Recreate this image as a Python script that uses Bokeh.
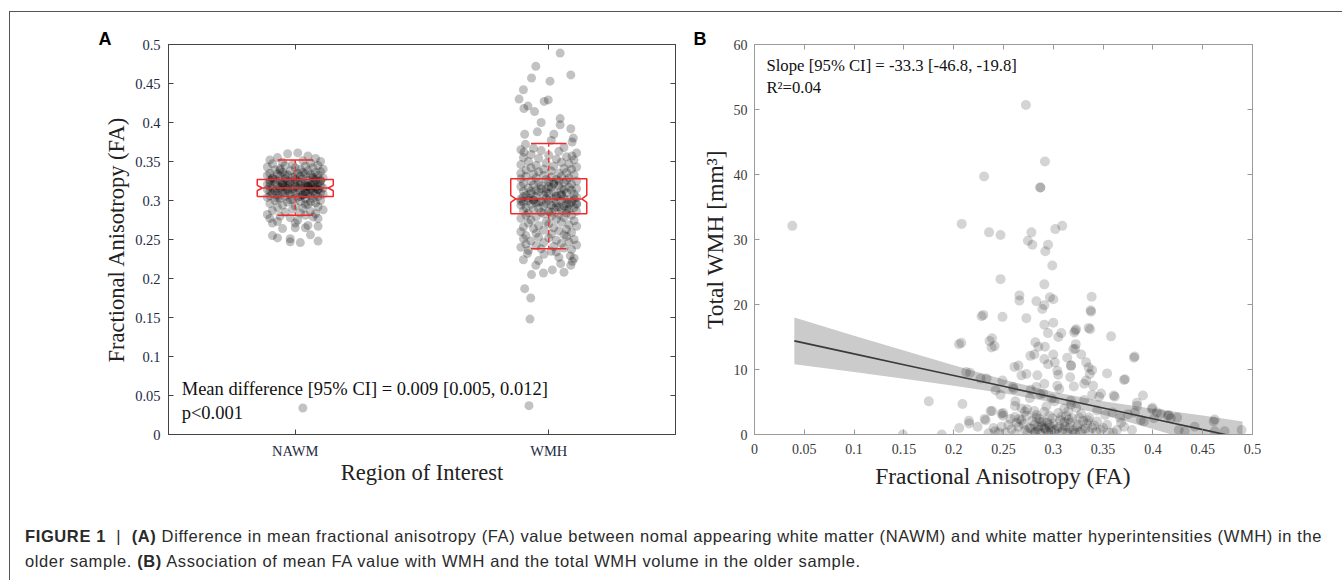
from bokeh.plotting import figure
from bokeh.models import FixedTicker, LinearAxis, Div, Range1d
from bokeh.layouts import row, column
from bokeh.embed import file_html
from bokeh.resources import INLINE
from bokeh.core.properties import value

SERIF = "Liberation Serif"

# ---------------- Panel A data ----------------
categories = ["NAWM", "WMH"]
cat_pos = [1, 2]

nawm_fa = [
    0.360, 0.361, 0.357, 0.355, 0.354, 0.352, 0.351, 0.350, 0.349, 0.348,
    0.347, 0.346, 0.345, 0.345, 0.344, 0.343, 0.342, 0.342, 0.341, 0.340,
    0.340, 0.339, 0.338, 0.338, 0.337, 0.336, 0.336, 0.335, 0.335, 0.334,
    0.334, 0.333, 0.333, 0.332, 0.332, 0.331, 0.331, 0.330, 0.330, 0.329,
    0.329, 0.328, 0.328, 0.327, 0.327, 0.326, 0.326, 0.325, 0.325, 0.324,
    0.324, 0.323, 0.323, 0.322, 0.322, 0.321, 0.321, 0.320, 0.320, 0.320,
    0.319, 0.319, 0.318, 0.318, 0.318, 0.317, 0.317, 0.316, 0.316, 0.316,
    0.315, 0.315, 0.314, 0.314, 0.314, 0.313, 0.313, 0.312, 0.312, 0.311,
    0.311, 0.310, 0.310, 0.309, 0.309, 0.308, 0.308, 0.307, 0.307, 0.306,
    0.306, 0.305, 0.305, 0.304, 0.304, 0.303, 0.302, 0.302, 0.301, 0.300,
    0.300, 0.299, 0.298, 0.297, 0.296, 0.295, 0.294, 0.293, 0.292, 0.291,
    0.290, 0.289, 0.288, 0.287, 0.286, 0.285, 0.284, 0.283, 0.282, 0.281,
    0.280, 0.279, 0.278, 0.277, 0.277, 0.275, 0.273, 0.271, 0.271, 0.268,
    0.267, 0.265, 0.265, 0.264, 0.256, 0.255, 0.252, 0.251, 0.248, 0.247,
    0.246, 0.034, 0.325, 0.318, 0.312, 0.322, 0.315, 0.328, 0.309, 0.320,
    0.316, 0.321, 0.313, 0.326, 0.310, 0.319, 0.323, 0.307, 0.331, 0.303,
    0.317, 0.314, 0.324, 0.311, 0.327, 0.308, 0.320, 0.333, 0.298, 0.336,
    0.318, 0.312, 0.322, 0.305, 0.329, 0.315, 0.301, 0.339, 0.295, 0.325,
]
nawm_dx = [
    -0.03, 0.01, 0.05, -0.07, 0.08, -0.10, 0.03, 0.10, -0.05, 0.06,
    -0.09, -0.01, 0.09, -0.04, 0.04, -0.11, 0.07, 0.00, -0.06, 0.11,
    0.02, -0.08, 0.05, -0.02, 0.10, -0.05, 0.08, -0.10, 0.01, 0.04,
    -0.07, 0.06, -0.03, 0.09, -0.11, 0.02, -0.06, 0.07, -0.01, 0.11,
    -0.09, 0.03, -0.04, 0.08, 0.00, -0.10, 0.05, -0.06, 0.10, 0.01,
    -0.02, 0.07, -0.08, 0.04, -0.05, 0.09, -0.11, 0.02, -0.03, 0.06,
    0.10, -0.07, 0.00, -0.10, 0.05, -0.04, 0.08, 0.03, -0.09, 0.11,
    -0.01, 0.06, -0.06, 0.09, -0.11, 0.02, -0.03, 0.07, -0.08, 0.04,
    -0.05, 0.10, 0.00, -0.09, 0.05, -0.02, 0.08, -0.07, 0.03, -0.10,
    0.06, -0.04, 0.09, -0.11, 0.01, 0.07, -0.06, 0.04, -0.02, 0.10,
    -0.08, 0.02, -0.03, 0.08, -0.10, 0.05, -0.05, 0.00, 0.09, -0.07,
    0.03, -0.01, 0.11, -0.09, 0.06, -0.04, 0.02, 0.08, -0.11, 0.04,
    -0.06, 0.07, -0.02, -0.10, 0.09, 0.01, -0.07, -0.09, 0.00, 0.05,
    0.09, 0.00, 0.04, -0.05, 0.06, -0.09, -0.07, -0.02, 0.09, -0.02,
    0.02, 0.03, -0.03, 0.05, -0.07, 0.00, 0.08, -0.09, 0.04, -0.05,
    0.01, -0.02, 0.06, 0.10, -0.04, 0.07, -0.10, 0.03, 0.00, -0.07,
    -0.06, 0.09, 0.02, -0.01, -0.08, 0.11, 0.05, -0.04, 0.06, 0.03,
    0.04, -0.10, -0.05, 0.02, 0.07, -0.03, -0.01, -0.06, 0.04, 0.08,
]

wmh_fa = [
    0.489, 0.461, 0.472, 0.457, 0.453, 0.442, 0.430, 0.427, 0.429, 0.418,
    0.414, 0.421, 0.405, 0.400, 0.397, 0.392, 0.385, 0.388, 0.385, 0.380,
    0.377, 0.375, 0.372, 0.367, 0.368, 0.362, 0.357,
    0.365, 0.364, 0.363, 0.361, 0.359, 0.358, 0.356, 0.355, 0.354, 0.353,
    0.352, 0.350, 0.349, 0.348, 0.347, 0.346, 0.345, 0.344, 0.343, 0.342,
    0.341, 0.340, 0.340, 0.339, 0.338, 0.337, 0.336, 0.335, 0.335, 0.334,
    0.333, 0.332, 0.331, 0.331, 0.330, 0.329, 0.329, 0.328, 0.327, 0.327,
    0.326, 0.325, 0.325, 0.324, 0.323, 0.323, 0.322, 0.321, 0.321, 0.320,
    0.319, 0.319, 0.318, 0.317, 0.317, 0.316, 0.315, 0.315, 0.314, 0.313,
    0.313, 0.312, 0.311, 0.311, 0.310, 0.309, 0.309, 0.308, 0.307, 0.307,
    0.306, 0.305, 0.305, 0.304, 0.303, 0.303, 0.302, 0.302, 0.301, 0.301,
    0.300, 0.300, 0.299, 0.299, 0.298, 0.298, 0.297, 0.297, 0.296, 0.296,
    0.295, 0.295, 0.294, 0.294, 0.293, 0.293, 0.292, 0.291, 0.291, 0.290,
    0.290, 0.289, 0.288, 0.288, 0.287, 0.286, 0.286, 0.285, 0.284, 0.284,
    0.283, 0.282, 0.281, 0.281, 0.280, 0.279, 0.278, 0.277, 0.276, 0.275,
    0.274, 0.273, 0.272, 0.271, 0.270, 0.269, 0.268, 0.267, 0.266, 0.265,
    0.264, 0.263, 0.262, 0.261, 0.260, 0.259, 0.258, 0.257, 0.256, 0.255,
    0.318, 0.308, 0.298, 0.312, 0.302, 0.292, 0.322, 0.305, 0.295, 0.315,
    0.300, 0.310, 0.288, 0.325, 0.303, 0.296, 0.314, 0.285, 0.306, 0.299,
    0.254, 0.253, 0.252, 0.251, 0.250, 0.249, 0.248, 0.247, 0.246, 0.245,
    0.244, 0.243, 0.242, 0.241, 0.240, 0.239, 0.238, 0.237, 0.236, 0.235,
    0.232, 0.231, 0.234, 0.229, 0.205, 0.217, 0.207, 0.211, 0.219, 0.208,
    0.217, 0.222, 0.187, 0.175, 0.148, 0.037, 0.226, 0.224, 0.227, 0.223,
]
wmh_dx = [
    0.045, 0.087, -0.051, -0.068, 0.005, -0.100, -0.117, -0.018, -0.002, -0.098,
    -0.056, -0.082, 0.045, -0.030, 0.045, 0.087, -0.095, -0.045, 0.020, 0.097,
    0.010, 0.092, -0.092, -0.060, 0.060, -0.098, 0.092,
    -0.11, -0.03, 0.04, 0.11, -0.07, 0.00, 0.07, -0.10, -0.04, 0.03,
    0.10, -0.08, 0.05, -0.01, 0.08, -0.11, -0.05, 0.02, 0.11, -0.07,
    0.06, -0.02, 0.09, -0.09, 0.01, -0.04, 0.07, -0.11, 0.04, -0.06,
    0.10, -0.02, 0.05, -0.09, 0.01, -0.05, 0.08, -0.11, 0.03, -0.01,
    0.07, -0.07, 0.11, 0.00, -0.04, 0.06, -0.10, 0.02, 0.09, -0.06,
    0.04, -0.03, -0.11, 0.08, 0.01, -0.08, 0.11, -0.01, 0.05, -0.05,
    0.09, -0.10, 0.02, -0.04, 0.07, -0.07, 0.00, 0.10, -0.02, 0.05,
    -0.09, 0.03, -0.05, 0.11, -0.01, 0.06, -0.11, 0.02, -0.06, 0.08,
    0.00, -0.08, 0.05, -0.03, 0.09, -0.10, 0.03, -0.05, 0.07, -0.01,
    0.11, -0.07, 0.01, -0.11, 0.06, -0.02, 0.04, -0.09, 0.10, -0.04,
    0.02, 0.08, -0.06, 0.05, -0.10, 0.00, 0.11, -0.03, 0.07, -0.08,
    -0.02, 0.04, -0.09, 0.09, 0.01, -0.05, 0.06, -0.11, 0.03, -0.07,
    0.10, -0.01, 0.05, -0.08, 0.00, 0.08, -0.04, 0.11, -0.10, 0.02,
    -0.06, 0.07, -0.02, 0.04, -0.11, 0.09, -0.05, 0.01, 0.06, -0.09,
    0.00, 0.05, -0.04, -0.07, 0.10, 0.03, 0.02, -0.10, 0.08, -0.03,
    -0.06, -0.01, 0.07, 0.04, -0.08, 0.11, 0.06, 0.01, 0.03, -0.11,
    0.07, -0.04, 0.00, -0.10, 0.10, 0.03, -0.07, 0.08, -0.02, 0.05,
    -0.09, 0.11, -0.05, 0.02, -0.11, 0.06, -0.03, 0.09, -0.08, 0.01,
    -0.084, -0.019, 0.030, 0.085, -0.068, -0.051, -0.021, 0.014, 0.047, 0.060,
    0.087, 0.093, -0.095, -0.071, -0.074, -0.078, 0.100, -0.100, 0.040, -0.040,
]

# box statistics: whisker low, q1, notch low, median, notch high, q3, whisker high
box_wlo = [0.281, 0.238]
box_q1 = [0.305, 0.283]
box_nlo = [0.3125, 0.2975]
box_med = [0.316, 0.302]
box_nhi = [0.3195, 0.3065]
box_q3 = [0.327, 0.328]
box_whi = [0.352, 0.373]

xa_ticks = [1, 2]
xa_labels = ["NAWM", "WMH"]
ya_ticks = [0, 0.05, 0.1, 0.15, 0.2, 0.25, 0.3, 0.35, 0.4, 0.45, 0.5]
ya_labels = ["0", "0.05", "0.1", "0.15", "0.2", "0.25", "0.3", "0.35", "0.4", "0.45", "0.5"]
ann_a = ["Mean difference [95% CI] = 0.009  [0.005, 0.012]", "p<0.001"]

# ---------------- Panel B data ----------------
fa_b = [
    0.038, 0.2725, 0.2916, 0.2305, 0.287, 0.287, 0.208, 0.2355, 0.247, 0.278,
    0.302, 0.309, 0.2745, 0.279, 0.2947, 0.292,
    0.299, 0.247, 0.266, 0.266, 0.283, 0.2966, 0.300, 0.3385, 0.3374, 0.291,
    0.291, 0.2298, 0.249, 0.273, 0.291, 0.300, 0.2947, 0.305, 0.308, 0.322,
    0.323, 0.3355, 0.358, 0.2076, 0.2385, 0.241, 0.282, 0.285, 0.2916, 0.281,
    0.300, 0.3015, 0.314, 0.320, 0.3225, 0.328, 0.3817, 0.333, 0.265, 0.2947,
    0.304, 0.3176, 0.3355, 0.3366, 0.2164, 0.273, 0.284, 0.354, 0.317, 0.333,
    0.372, 0.233, 0.249, 0.291, 0.304, 0.3206, 0.340, 0.2595, 0.242, 0.2775,
    0.287, 0.348, 0.3607, 0.390, 0.247, 0.262, 0.2985, 0.3176, 0.175, 0.2088,
    0.384, 0.2737, 0.281, 0.2385, 0.2496, 0.344, 0.3595, 0.3996, 0.404, 0.415,
    0.4244, 0.462, 0.2153, 0.231, 0.266, 0.286, 0.3156, 0.3347, 0.388,
    0.149, 0.188, 0.2055, 0.2155, 0.224, 0.232, 0.237, 0.240, 0.2415, 0.235,
    0.248, 0.2495, 0.2615, 0.265, 0.268, 0.2715, 0.276, 0.281, 0.2845, 0.288,
    0.291, 0.293, 0.296, 0.299, 0.301, 0.306, 0.311, 0.316, 0.319, 0.324,
    0.329, 0.334, 0.339, 0.344, 0.3475, 0.354, 0.3617, 0.364, 0.371, 0.379,
    0.384, 0.382, 0.391, 0.399, 0.401, 0.408, 0.416, 0.418, 0.426, 0.432,
    0.442, 0.461, 0.462, 0.472, 0.489, 0.305, 0.318, 0.339, 0.371, 0.381,
    0.337, 0.338, 0.289, 0.277, 0.291, 0.321, 0.322, 0.228, 0.2053, 0.236,
    0.238, 0.2125, 0.227, 0.261, 0.268, 0.283, 0.290, 0.306, 0.331, 0.339,
    0.260, 0.2765, 0.301, 0.318, 0.331, 0.346, 0.2715, 0.291, 0.311, 0.328,
    0.248, 0.2615, 0.283,
    0.252, 0.258, 0.262, 0.270, 0.274, 0.279, 0.282, 0.285, 0.287, 0.290,
    0.292, 0.295, 0.297, 0.300, 0.302, 0.304, 0.307, 0.309, 0.312, 0.314,
    0.317, 0.320, 0.322, 0.325, 0.327, 0.330, 0.332, 0.336, 0.341, 0.343,
    0.350, 0.356, 0.278, 0.283, 0.294, 0.298, 0.310, 0.313, 0.319, 0.326,
    0.288, 0.281, 0.296, 0.305, 0.315, 0.273, 0.263, 0.255, 0.245, 0.257,
    0.268, 0.293, 0.308, 0.323, 0.336, 0.352, 0.367, 0.375, 0.360, 0.368,
]
vol_b = [
    32.1, 50.7, 42.0, 39.7, 38.0, 38.0, 32.4, 31.1, 30.7, 31.1,
    31.6, 32.1, 29.8, 29.2, 29.2, 28.2,
    26.0, 23.9, 21.4, 20.6, 20.5, 21.1, 20.8, 21.2, 19.1, 19.9,
    23.1, 18.4, 18.1, 17.9, 16.9, 17.2, 15.6, 15.0, 15.6, 16.0,
    16.2, 16.4, 15.1, 14.1, 14.8, 13.6, 14.2, 13.5, 13.5, 12.3,
    12.3, 11.1, 11.8, 13.1, 13.9, 12.3, 12.0, 11.1, 10.6, 10.8,
    9.8, 10.6, 10.3, 9.3, 9.5, 9.3, 9.1, 9.4, 8.8, 8.3,
    8.5, 8.6, 8.3, 7.8, 7.5, 7.4, 7.5, 7.3, 6.8, 6.9,
    6.2, 6.3, 6.0, 6.0, 6.1, 5.1, 5.5, 5.2, 5.1, 4.7,
    4.9, 3.9, 3.6, 3.6, 3.3, 3.7, 3.4, 4.1, 3.4, 2.9,
    2.6, 2.3, 2.1, 2.4, 2.4, 2.4, 2.3, 2.2, 2.2,
    0.0, 0.0, 1.0, 1.7, 1.2, 2.2, 3.6, 1.0, 0.5, 0.2,
    1.2, 2.9, 4.4, 1.2, 2.2, 0.7, 1.0, 1.5, 0.7, 1.9,
    1.0, 0.5, 1.5, 2.5, 0.7, 1.2, 1.9, 1.0, 2.5, 1.2,
    0.7, 1.7, 1.0, 2.0, 0.7, 1.5, 5.8, 0.7, 1.2, 0.7,
    4.4, 3.4, 2.0, 3.9, 2.5, 3.2, 3.0, 2.5, 0.7, 0.5,
    1.2, 2.0, 0.5, 0.5, 0.7, 9.2, 10.6, 9.9, 8.4, 11.8,
    16.2, 18.9, 19.3, 12.1, 11.6, 15.7, 13.2, 18.2, 13.9, 14.4,
    13.4, 9.6, 8.6, 10.4, 9.1, 7.3, 6.3, 7.0, 7.8, 6.1,
    7.0, 5.6, 5.1, 4.6, 5.3, 5.8, 3.5, 3.5, 4.0, 3.2,
    3.2, 2.7, 3.0,
    0.3, 0.8, 0.2, 1.6, 0.3, 2.1, 0.4, 1.2, 0.2, 2.0,
    0.8, 0.3, 1.1, 1.7, 0.2, 0.9, 2.2, 0.4, 1.3, 0.3,
    1.8, 0.6, 0.2, 1.5, 0.4, 2.1, 0.9, 0.3, 1.4, 0.4,
    1.0, 0.3, 0.9, 2.6, 1.8, 0.5, 0.8, 2.8, 0.3, 2.6,
    1.3, 0.2, 2.9, 3.3, 3.6, 2.9, 1.8, 1.5, 0.3, 2.4,
    4.0, 4.3, 2.7, 4.1, 2.6, 3.0, 2.6, 3.1, 0.3, 1.8,
]

fit_x = [0.04, 0.10, 0.15, 0.20, 0.25, 0.30, 0.35, 0.40, 0.45, 0.49]
fit_y = [14.40, 12.40, 10.74, 9.07, 7.41, 5.74, 4.08, 2.41, 0.75, -0.59]
ci_lo = [10.8, 9.6, 8.56, 7.50, 6.36, 4.94, 3.03, 0.84, -1.43, -3.20]
ci_hi = [18.0, 15.2, 12.92, 10.64, 8.46, 6.54, 5.13, 3.98, 2.93, 2.00]

xb_ticks = [0, 0.05, 0.1, 0.15, 0.2, 0.25, 0.3, 0.35, 0.4, 0.45, 0.5]
xb_labels = ["0", "0.05", "0.1", "0.15", "0.2", "0.25", "0.3", "0.35", "0.4", "0.45", "0.5"]
yb_ticks = [0, 10, 20, 30, 40, 50, 60]
yb_labels = ["0", "10", "20", "30", "40", "50", "60"]
ann_b = ["Slope [95% CI] = -33.3  [-46.8, -19.8]", "R\u00b2=0.04"]

panel_letters = ["A", "B"]
caption_html = (
    "<b>FIGURE 1</b> &nbsp;|&nbsp; <b>(A)</b> Difference in mean fractional anisotropy (FA) value "
    "between nomal appearing white matter (NAWM) and white matter hyperintensities (WMH) in the<br>"
    "older sample. <b>(B)</b> Association of mean FA value with WMH and the total WMH volume in the older sample."
)


def style_axis(ax, color, label_color, tick_size, label_size, show_labels=True):
    ax.major_tick_in = 5
    ax.major_tick_out = 0
    ax.minor_tick_line_color = None
    ax.axis_line_color = color
    ax.major_tick_line_color = color
    ax.major_label_text_font = SERIF
    if show_labels:
        ax.major_label_text_color = label_color
        ax.major_label_text_font_size = tick_size
    else:
        ax.major_label_text_color = None
        ax.major_label_text_font_size = "1px"
        ax.major_label_standoff = 0
    ax.axis_label_text_font = SERIF
    ax.axis_label_text_font_style = "normal"
    ax.axis_label_text_color = "#222222"
    ax.axis_label_text_font_size = label_size


def style_title(p, letter, offset):
    p.title.text = letter
    p.title.align = "left"
    p.title.offset = offset
    p.title.text_font = "Liberation Sans"
    p.title.text_font_style = "bold"
    p.title.text_font_size = "18px"
    p.title.text_color = "black"
    p.title.standoff = -8


# ---------------- Panel A ----------------
pA = figure(width=680, height=488, x_range=Range1d(0.5, 2.5), y_range=Range1d(0, 0.5),
            output_backend="svg", toolbar_location=None,
            min_border_left=158, min_border_right=15, min_border_top=32, min_border_bottom=66)
pA.grid.visible = False
pA.outline_line_color = "#444444"
style_title(pA, panel_letters[0], -70)

xs_n = [cat_pos[0] + d for d in nawm_dx]
xs_w = [cat_pos[1] + d for d in wmh_dx]
pA.scatter(xs_n, nawm_fa, size=9, fill_color="black", fill_alpha=0.24, line_color=None)
pA.scatter(xs_w, wmh_fa, size=9, fill_color="black", fill_alpha=0.24, line_color=None)

RED = "#f02a2a"
hw, inset, cap = 0.15, 0.02, 0.07
for i, c in enumerate(cat_pos):
    bx = [c - hw, c - hw, c - hw + inset, c - hw, c - hw, c + hw, c + hw, c + hw - inset, c + hw, c + hw, c - hw]
    by = [box_q1[i], box_nlo[i], box_med[i], box_nhi[i], box_q3[i], box_q3[i], box_nhi[i], box_med[i],
          box_nlo[i], box_q1[i], box_q1[i]]
    pA.line(bx, by, line_color=RED, line_width=1.5)
    pA.line([c - hw + inset, c + hw - inset], [box_med[i], box_med[i]], line_color=RED, line_width=1.5)
    pA.line([c, c], [box_q3[i], box_whi[i]], line_color=RED, line_width=1.3, line_dash="5 3")
    pA.line([c, c], [box_q1[i], box_wlo[i]], line_color=RED, line_width=1.3, line_dash="5 3")
    pA.line([c - cap, c + cap], [box_whi[i], box_whi[i]], line_color=RED, line_width=1.5)
    pA.line([c - cap, c + cap], [box_wlo[i], box_wlo[i]], line_color=RED, line_width=1.5)

pA.text(x=[0.552, 0.552], y=[0.0577, 0.0278], text=ann_a, text_font=value(SERIF),
        text_font_size="18.5px", text_baseline="middle", text_align="left", text_color="#111111")

pA.xaxis.ticker = FixedTicker(ticks=xa_ticks)
pA.xaxis.major_label_overrides = dict(zip(xa_ticks, xa_labels))
pA.yaxis.ticker = FixedTicker(ticks=ya_ticks)
pA.yaxis.major_label_overrides = dict(zip(ya_ticks, ya_labels))
pA.xaxis.axis_label = "Region of Interest"
pA.yaxis.axis_label = "Fractional Anisotropy (FA)"
for ax in (pA.xaxis[0], pA.yaxis[0]):
    style_axis(ax, "#444444", "#1e2a44", "14.5px", "22.5px")
pA.xaxis.major_label_standoff = 8
pA.xaxis.axis_label_standoff = -2
pA.yaxis.major_label_standoff = 8
pA.yaxis.axis_label_standoff = 3

topA = LinearAxis(ticker=FixedTicker(ticks=xa_ticks))
style_axis(topA, "#444444", "#1e2a44", "14.5px", "22px", show_labels=False)
pA.add_layout(topA, "above")
rightA = LinearAxis(ticker=FixedTicker(ticks=ya_ticks))
style_axis(rightA, "#444444", "#1e2a44", "14.5px", "22px", show_labels=False)
pA.add_layout(rightA, "right")

# ---------------- Panel B ----------------
pB = figure(width=644, height=488, x_range=Range1d(0, 0.5), y_range=Range1d(0, 60),
            output_backend="svg", toolbar_location=None,
            min_border_left=64, min_border_right=82, min_border_top=30, min_border_bottom=62)
pB.grid.visible = False
pB.outline_line_color = "#9a9a9a"
style_title(pB, panel_letters[1], -61)

pB.varea(x=fit_x, y1=ci_lo, y2=ci_hi, fill_color="#cbcbcb")
pB.scatter(fa_b, vol_b, size=10, fill_color="black", fill_alpha=0.17, line_color=None)
pB.line(fit_x, fit_y, line_color="#3a3a3a", line_width=1.6)

pB.text(x=[0.012, 0.012], y=[56.8, 53.4], text=ann_b, text_font=value(SERIF),
        text_font_size="16.7px", text_baseline="middle", text_align="left", text_color="#111111")

pB.xaxis.ticker = FixedTicker(ticks=xb_ticks)
pB.xaxis.major_label_overrides = dict(zip(xb_ticks, xb_labels))
pB.yaxis.ticker = FixedTicker(ticks=yb_ticks)
pB.yaxis.major_label_overrides = dict(zip(yb_ticks, yb_labels))
pB.xaxis.axis_label = "Fractional Anisotropy (FA)"
pB.yaxis.axis_label = "Total WMH [mm\u00b3]"
for ax in (pB.xaxis[0], pB.yaxis[0]):
    style_axis(ax, "#9a9a9a", "#3a3a3a", "14px", "23.5px")
pB.xaxis.major_label_standoff = 9
pB.xaxis.axis_label_standoff = 6
pB.yaxis.major_label_standoff = 7
pB.yaxis.axis_label_standoff = 3

topB = LinearAxis(ticker=FixedTicker(ticks=xb_ticks))
style_axis(topB, "#9a9a9a", "#3a3a3a", "14px", "22px", show_labels=False)
pB.add_layout(topB, "above")
rightB = LinearAxis(ticker=FixedTicker(ticks=yb_ticks))
style_axis(rightB, "#9a9a9a", "#3a3a3a", "14px", "22px", show_labels=False)
pB.add_layout(rightB, "right")

# ---------------- Caption + frame ----------------
caption = Div(
    text=('<div style="font-family:\'Liberation Sans\', Arial, sans-serif; font-size:16.5px; '
          'letter-spacing:0.61px; line-height:25px; padding:24px 0 0 15px; white-space:nowrap; '
          'color:#2a2a2a;">' + caption_html + '</div>'),
    width=1324, height=80, margin=0)

top_gap = Div(text="", width=1334, height=11, margin=0)
left_gap = Div(text="", width=9, height=569, margin=0)
hline = Div(text="", width=1333, height=1, margin=0, styles={"background-color": "#555555"})
vline = Div(text="", width=1, height=568, margin=0, styles={"background-color": "#555555"})

content = column(row(pA, pB), caption)
layout = column(top_gap, row(left_gap, column(hline, row(vline, content))))

open("out.html", "w").write(file_html(layout, INLINE))
